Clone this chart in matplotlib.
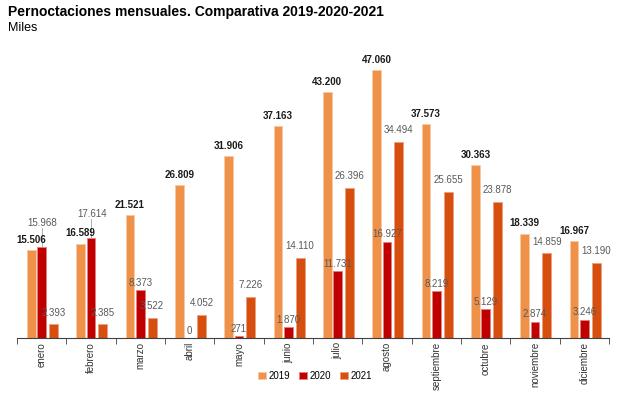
import matplotlib.pyplot as plt
import numpy as np

plt.rcParams["font.family"] = ["Liberation Sans", "DejaVu Sans"]

months = ["enero", "febrero", "marzo", "abril", "mayo", "junio", "julio",
          "agosto", "septiembre", "octubre", "noviembre", "diciembre"]
v2019 = [15506, 16589, 21521, 26809, 31906, 37163, 43200, 47060, 37573, 30363, 18339, 16967]
v2020 = [15968, 17614, 8373, 0, 271, 1870, 11731, 16927, 8219, 5129, 2874, 3246]
v2021 = [2393, 2385, 3522, 4052, 7226, 14110, 26396, 34494, 25655, 23878, 14859, 13190]

C2019 = "#F0914A"
C2020 = "#C00000"
C2021 = "#D64F0E"
GREY = "#595959"


def fmt(v):
    return f"{v:,}".replace(",", ".")


fig = plt.figure(figsize=(6.31, 3.99), dpi=100)
ax = fig.add_axes([17 / 631, 61 / 399, 592 / 631, 296 / 399])

x = np.arange(len(months))
w = 0.18
ax.bar(x - 0.21, v2019, w, color=C2019, edgecolor="#F7C9A5", linewidth=0.6, label="2019")
ax.bar(x, v2020, w, color=C2020, edgecolor="#E08080", linewidth=0.6, label="2020")
ax.bar(x + 0.24, v2021, w, color=C2021, edgecolor="#EBA080", linewidth=0.6, label="2021")

for i in range(len(months)):
    ax.text(x[i] - 0.21, v2019[i] + 900, fmt(v2019[i]), ha="center", va="bottom",
            fontsize=7, fontweight="bold", color="#1a1a1a")
    if i < 2:
        ty = v2020[i] + 3300
        ax.plot([x[i], x[i]], [v2020[i], ty], color="#A0A0A0", lw=0.6)
        ax.text(x[i] + 0.02, ty, fmt(v2020[i]), ha="center", va="bottom",
                fontsize=7, color=GREY)
    else:
        ax.text(x[i], v2020[i] + 400, fmt(v2020[i]), ha="center", va="bottom",
                fontsize=7, color=GREY)
    ax.text(x[i] + 0.24, v2021[i] + 1200, fmt(v2021[i]), ha="center", va="bottom",
            fontsize=7, color=GREY)

ax.set_xlim(-0.5, len(months) - 0.5)
ax.set_ylim(0, 52000)
ax.set_xticks(x)
ax.set_xticklabels(months, rotation=90, fontsize=7, color="#333333")
ax.tick_params(axis="x", length=0, pad=3)
ax.set_xticks(np.arange(len(months) + 1) - 0.5, minor=True)
ax.tick_params(axis="x", which="minor", length=4, color="#404040", direction="out")
ax.set_yticks([])
for s in ["top", "right", "left"]:
    ax.spines[s].set_visible(False)
ax.spines["bottom"].set_color("#404040")
ax.spines["bottom"].set_linewidth(0.8)

fig.text(8 / 631, 1 - 12 / 399, "Pernoctaciones mensuales. Comparativa 2019-2020-2021",
         fontsize=10, fontweight="bold", va="center", ha="left")
fig.text(8 / 631, 1 - 28 / 399, "Miles", fontsize=9, va="center", ha="left")

fig.legend(loc="center", bbox_to_anchor=(315 / 631, 1 - 376 / 399), ncol=3,
           frameon=False, fontsize=7, handlelength=0.8, handleheight=0.8,
           handletextpad=0.2, columnspacing=1.0)

fig.savefig("out.png", dpi=100)
